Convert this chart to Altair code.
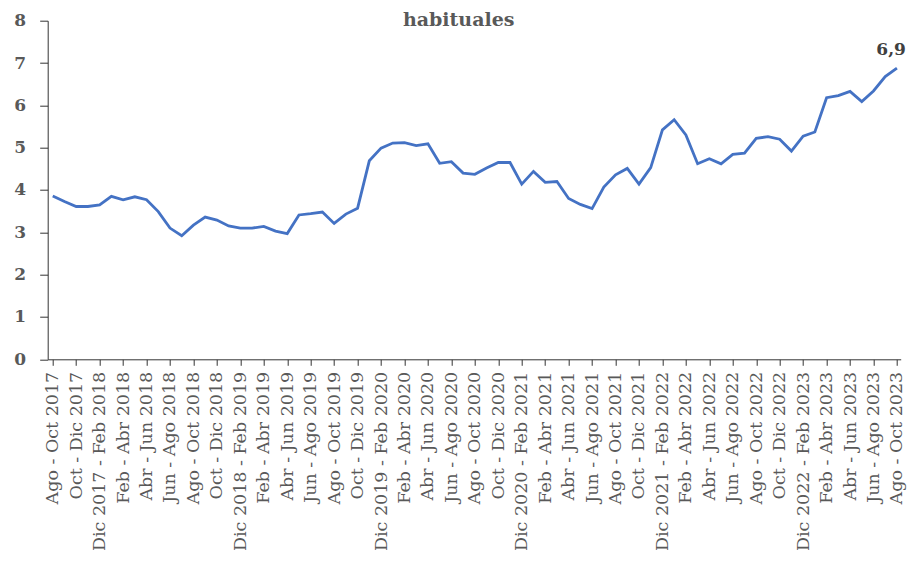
import json
import altair as alt
import pandas as pd

periods = [
    "Ago - Oct 2017", "Sep - Nov 2017", "Oct - Dic 2017", "Nov 2017 - Ene 2018", "Dic 2017 - Feb 2018",
    "Ene - Mar 2018", "Feb - Abr 2018", "Mar - May 2018", "Abr - Jun 2018", "May - Jul 2018", "Jun - Ago 2018",
    "Jul - Sep 2018", "Ago - Oct 2018", "Sep - Nov 2018", "Oct - Dic 2018", "Nov 2018 - Ene 2019", "Dic 2018 - Feb 2019",
    "Ene - Mar 2019", "Feb - Abr 2019", "Mar - May 2019", "Abr - Jun 2019", "May - Jul 2019", "Jun - Ago 2019",
    "Jul - Sep 2019", "Ago - Oct 2019", "Sep - Nov 2019", "Oct - Dic 2019", "Nov 2019 - Ene 2020", "Dic 2019 - Feb 2020",
    "Ene - Mar 2020", "Feb - Abr 2020", "Mar - May 2020", "Abr - Jun 2020", "May - Jul 2020", "Jun - Ago 2020",
    "Jul - Sep 2020", "Ago - Oct 2020", "Sep - Nov 2020", "Oct - Dic 2020", "Nov 2020 - Ene 2021", "Dic 2020 - Feb 2021",
    "Ene - Mar 2021", "Feb - Abr 2021", "Mar - May 2021", "Abr - Jun 2021", "May - Jul 2021", "Jun - Ago 2021",
    "Jul - Sep 2021", "Ago - Oct 2021", "Sep - Nov 2021", "Oct - Dic 2021", "Nov 2021 - Ene 2022", "Dic 2021 - Feb 2022",
    "Ene - Mar 2022", "Feb - Abr 2022", "Mar - May 2022", "Abr - Jun 2022", "May - Jul 2022", "Jun - Ago 2022",
    "Jul - Sep 2022", "Ago - Oct 2022", "Sep - Nov 2022", "Oct - Dic 2022", "Nov 2022 - Ene 2023", "Dic 2022 - Feb 2023",
    "Ene - Mar 2023", "Feb - Abr 2023", "Mar - May 2023", "Abr - Jun 2023", "May - Jul 2023", "Jun - Ago 2023",
    "Jul - Sep 2023", "Ago - Oct 2023",
]

values = [
    3.86, 3.73, 3.61, 3.61, 3.65, 3.85, 3.77, 3.84, 3.77, 3.49, 3.10, 2.92, 3.17, 3.36, 3.29, 3.15,
    3.10, 3.10, 3.14, 3.03, 2.97, 3.41, 3.44, 3.48, 3.21, 3.43, 3.57, 4.69, 4.99, 5.11, 5.12, 5.05,
    5.09, 4.63, 4.67, 4.40, 4.37, 4.52, 4.65, 4.65, 4.14, 4.44, 4.18, 4.20, 3.80, 3.66, 3.56, 4.07,
    4.36, 4.51, 4.14, 4.53, 5.42, 5.66, 5.30, 4.62, 4.74, 4.62, 4.84, 4.87, 5.22, 5.26, 5.20, 4.92,
    5.27, 5.37, 6.18, 6.23, 6.33, 6.09, 6.34, 6.68, 6.88,
]

last_label = ["6,9"]
title_text = ["habituales"]
y_ticks = [0, 1, 2, 3, 4, 5, 6, 7, 8]

df = pd.DataFrame({"i": list(range(len(values))), "periodo": periods, "valor": values})
df_last = pd.DataFrame({"i": [len(values) - 1], "valor": [values[-1]], "label": last_label})
df_title = pd.DataFrame({"t": title_text})

tick_idx = list(range(0, len(periods), 2))
label_expr = json.dumps(periods) + "[datum.value]"

FONT = "DejaVu Serif"
W = 853
H = 338.6

x = alt.X(
    "i:Q",
    scale=alt.Scale(domain=[-0.43, 72.32], nice=False, zero=False),
    axis=alt.Axis(
        values=tick_idx,
        labelExpr=label_expr,
        labelAngle=-90,
        labelAlign="right",
        labelBaseline="middle",
        labelFont=FONT,
        labelFontSize=17.5,
        labelColor="#595959",
        labelPadding=6,
        labelLimit=400,
        tickSize=6,
        tickColor="#333333",
        domainColor="#333333",
        grid=False,
        title=None,
        labelOverlap=False,
    ),
)
y = alt.Y(
    "valor:Q",
    scale=alt.Scale(domain=[0, 8], nice=False),
    axis=alt.Axis(
        values=y_ticks,
        labelFont=FONT,
        labelFontSize=17,
        labelFontWeight="bold",
        labelColor="#595959",
        labelPadding=14,
        tickSize=8,
        tickColor="#333333",
        domainColor="#333333",
        grid=False,
        title=None,
    ),
)

line = alt.Chart(df).mark_line(color="#4472C4", strokeWidth=2.8).encode(x=x, y=y)

text = alt.Chart(df_last).mark_text(
    font=FONT, fontSize=17, fontWeight="bold", color="#404040",
    align="right", dx=9, dy=-13, baseline="alphabetic"
).encode(x=x, y=y, text="label:N")

title = alt.Chart(df_title).mark_text(
    font=FONT, fontSize=19, fontWeight="bold", color="#595959",
    align="center", baseline="alphabetic"
).encode(x=alt.value(411), y=alt.value(5), text="t:N")

chart = (
    alt.layer(line, text, title)
    .properties(
        width=W,
        height=H,
        autosize=alt.AutoSizeParams(type="none"),
        padding={"left": 39.7, "top": 12.7, "right": 6.5, "bottom": 198},
    )
    .configure_view(stroke=None)
)

chart.save("out.html", embed_options={"renderer": "svg", "actions": False})
